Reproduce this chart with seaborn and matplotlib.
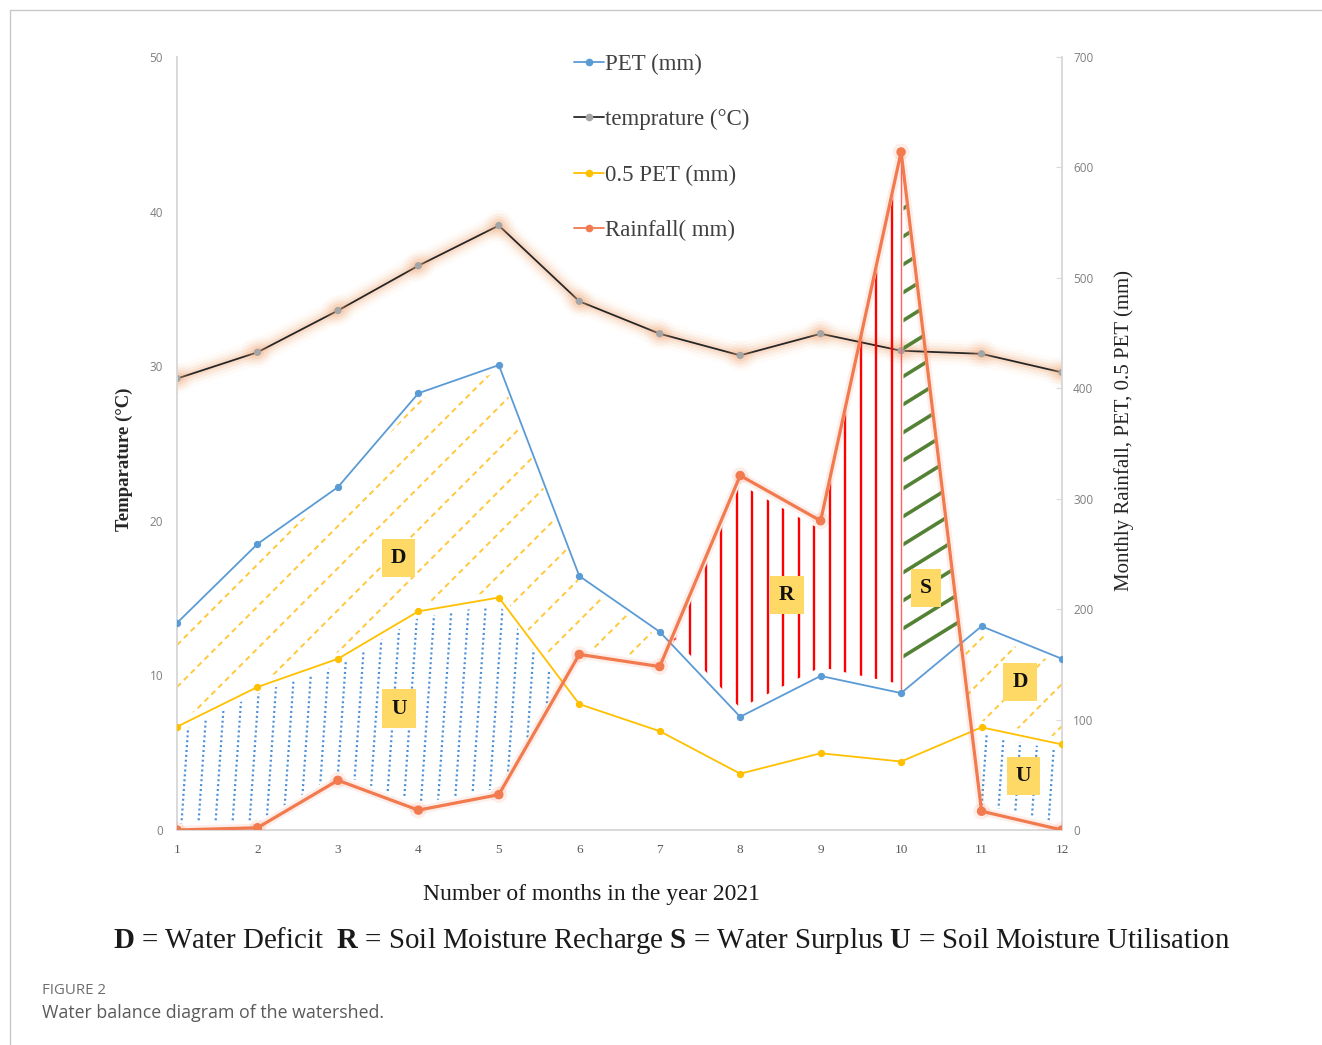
import numpy as np
import pandas as pd
import seaborn as sns
import matplotlib
matplotlib.use("Agg")
import matplotlib.pyplot as plt
import matplotlib.patheffects as pe
from matplotlib.lines import Line2D
from matplotlib.collections import LineCollection
from matplotlib.patches import PathPatch
from matplotlib.path import Path

# ---- data (year 2021) ----
months = [1, 2, 3, 4, 5, 6, 7, 8, 9, 10, 11, 12]
pet_mm = [187.5, 259, 310.5, 395.5, 421, 230, 179.5, 102.5, 139.5, 124, 184.5, 155]
half_pet_mm = [93.5, 129.5, 155, 198, 210.5, 114, 89.5, 51, 69.5, 62, 93, 77.5]
rain_mm = [0, 2, 45, 18, 32, 159, 148, 321, 280, 614, 17, 0]
temp_c = [29.2, 30.9, 33.6, 36.5, 39.1, 34.2, 32.1, 30.7, 32.1, 31.0, 30.8, 29.6]
temp_ticks = [0, 10, 20, 30, 40, 50]
mm_ticks = [0, 100, 200, 300, 400, 500, 600, 700]

df = pd.DataFrame({"month": months, "pet": pet_mm, "half": half_pet_mm,
                   "rain": rain_mm, "temp": temp_c})

sns.set_style("white")
plt.rcParams["font.family"] = ["Liberation Serif", "DejaVu Serif"]
plt.rcParams["mathtext.fontset"] = "custom"
plt.rcParams["mathtext.rm"] = "Liberation Serif"
plt.rcParams["mathtext.bf"] = "Liberation Serif:bold"

W_PX, H_PX = 1322, 1045
fig = plt.figure(figsize=(W_PX / 100, H_PX / 100), dpi=100)
fig.patch.set_facecolor("white")

def fx(px):
    return px / W_PX

def fy(py):
    return 1 - py / H_PX

ax = fig.add_axes([fx(177), fy(830), fx(1062) - fx(177), fy(57) - fy(830)])
ax2 = ax.twinx()

C_PET = "#5B9BD5"
C_HALF = "#FFC000"
C_RAIN = "#F27A4F"
C_TEMP = "#262626"
GRID_GRAY = "#D9D9D9"

# ---- temperature on the left axis ----
sns.lineplot(data=df, x="month", y="temp", ax=ax, color=C_TEMP, linewidth=1.3,
             marker="o", markersize=4.5, markerfacecolor="#A5A5A5",
             markeredgecolor="#A5A5A5", zorder=3)
glow = "#F4B183"
ax.lines[-1].set_path_effects([
    pe.Stroke(linewidth=18, foreground=glow, alpha=0.05),
    pe.Stroke(linewidth=13, foreground=glow, alpha=0.09),
    pe.Stroke(linewidth=9, foreground=glow, alpha=0.14),
    pe.Stroke(linewidth=5, foreground=glow, alpha=0.22),
    pe.Normal()])

ax.set_xlim(1, 12)
ax.set_ylim(0, 50)
ax2.set_ylim(0, 700)

# ---- hatched water-balance regions (right axis) ----
xs = np.linspace(1, 12, 2201)
pet_i = np.interp(xs, months, pet_mm)
half_i = np.interp(xs, months, half_pet_mm)
rain_i = np.interp(xs, months, rain_mm)

def region(lower, upper, mask):
    poly = ax2.fill_between(xs, lower, upper, where=mask, facecolor="none",
                            edgecolor="none", linewidth=0)
    paths = poly.get_paths()
    patch = PathPatch(Path.make_compound_path(*paths), transform=ax2.transData,
                      facecolor="none", edgecolor="none")
    ax2.add_patch(patch)
    return patch

fig.canvas.draw()
bb = ax.get_window_extent()
AW, AH = bb.width, bb.height

def hatch(patch, dxdy, slope, spacing, vertical=False, **kw):
    segs = []
    if vertical:
        # nearly vertical lines: x = x0 + dxdy * y (pixels)
        for x0 in np.arange(-200, AW + 200, spacing):
            segs.append([((x0) / AW, 0), ((x0 + dxdy * AH) / AW, 1)])
    else:
        # lines y = slope * x + c (pixels)
        for c in np.arange(-slope * AW - 400, AH + 400, spacing):
            segs.append([(0, c / AH), (1, (slope * AW + c) / AH)])
    lc = LineCollection(segs, transform=ax2.transAxes, **kw)
    ax2.add_collection(lc)
    lc.set_clip_path(patch)
    return lc

m = 6
# water deficit: PET above rainfall
d_mask = pet_i > rain_i
d_patch = region(np.maximum(half_i, rain_i) + m, pet_i - m, d_mask)
hatch(d_patch, 0, 1.0, 42, colors="#FFC83D", linewidths=1.4,
      linestyles=[(0, (2.8, 2.2))], zorder=2)

# soil moisture utilisation: rainfall below 0.5 PET
u_mask = rain_i < half_i
u_patch = region(rain_i + m, half_i - m, u_mask)
hatch(u_patch, 0.07, 0, 17, vertical=True, colors="#4A8FD8", linewidths=1.6,
      linestyles=[(0, (0.9, 1.3))], zorder=2)

# soil moisture recharge: rainfall above PET up to month 10
r_mask = (rain_i > pet_i) & (xs <= 10)
r_patch = region(pet_i + 8, rain_i - 8, r_mask)
hatch(r_patch, 0, 0, 15.5, vertical=True, colors="#FF0000", linewidths=1.7,
      zorder=2)

# water surplus: rainfall above PET after month 10
s_mask = (rain_i > pet_i) & (xs >= 10.03)
s_patch = region(pet_i + 12, rain_i - 12, s_mask)
hatch(s_patch, 0, 0.62, 28, colors="#548235", linewidths=2.6, zorder=2)

# thin boundary between recharge and surplus
ax2.vlines(10, pet_mm[9], rain_mm[9], colors="#FF6060", linewidth=1.0, zorder=2)

# ---- series on the right axis ----
sns.lineplot(data=df, x="month", y="pet", ax=ax2, color=C_PET, linewidth=1.3,
             marker="o", markersize=4.5, markeredgecolor=C_PET, zorder=4)
sns.lineplot(data=df, x="month", y="half", ax=ax2, color=C_HALF, linewidth=1.3,
             marker="o", markersize=4.5, markeredgecolor=C_HALF, zorder=4)
sns.lineplot(data=df, x="month", y="rain", ax=ax2, color=C_RAIN, linewidth=2.3,
             marker="o", markersize=6, markeredgecolor=C_RAIN, zorder=5)
ax2.lines[-1].set_path_effects([
    pe.Stroke(linewidth=6, foreground=C_RAIN, alpha=0.12),
    pe.Normal()])

ax2.set_xlim(1, 12)
ax2.set_ylim(0, 700)

# ---- letter tags ----
tags = [("D", 3.75, 246), ("U", 3.76, 110), ("R", 8.58, 213),
        ("S", 10.31, 219), ("D", 11.48, 134), ("U", 11.52, 49)]
for letter, tx, ty in tags:
    ax2.text(tx, ty, letter, ha="center", va="center", fontsize=15.5,
             fontweight="bold", color="#111111", zorder=6,
             bbox=dict(boxstyle="square,pad=0.42", facecolor="#FFD966",
                       edgecolor="none"))

# ---- axes styling ----
for a in (ax, ax2):
    a.spines["top"].set_visible(False)
    for side in ("left", "right", "bottom"):
        a.spines[side].set_color(GRID_GRAY)
        a.spines[side].set_linewidth(1.2)
    a.grid(False)
    a.set_xlabel("")
    a.set_ylabel("")

ax.set_xticks(months)
ax.set_xticklabels([str(v) for v in months], fontsize=9.5, color="#595959")
ax.tick_params(axis="x", length=0, pad=10)
ax.set_yticks(temp_ticks)
ax.set_yticklabels([str(v) for v in temp_ticks], fontsize=8.5, color="#7F7F7F",
                   family="Open Sans")
ax.tick_params(axis="y", length=0, pad=10)

ax2.set_yticks(mm_ticks)
ax2.set_yticklabels([str(v) for v in mm_ticks], fontsize=8.5, color="#7F7F7F",
                    family="Open Sans")
ax2.tick_params(axis="y", length=4, direction="in", color=GRID_GRAY, pad=8)

ax.set_ylabel("Temparature (°C)", fontsize=13.5, fontweight="bold", color="#262626")
ax.yaxis.set_label_coords(-0.050, 0.48)
ax2.set_ylabel("Monthly Rainfall, PET, 0.5 PET (mm)", fontsize=15,
               color="#262626", rotation=90)
ax2.yaxis.set_label_coords(1.059, 0.517)
ax.set_xlabel("Number of months in the year 2021", fontsize=17, color="#1a1a1a")
ax.xaxis.set_label_coords(0.468, -0.070)

# ---- legend ----
handles = [
    Line2D([], [], color=C_PET, lw=1.3, marker="o", ms=4.5),
    Line2D([], [], color=C_TEMP, lw=1.3, marker="o", ms=4.5,
           markerfacecolor="#A5A5A5", markeredgecolor="#A5A5A5"),
    Line2D([], [], color=C_HALF, lw=1.3, marker="o", ms=4.5),
    Line2D([], [], color=C_RAIN, lw=1.3, marker="o", ms=4.5),
]
labels = ["PET (mm)", "temprature (°C)", "0.5 PET (mm)", "Rainfall( mm)"]
leg = ax2.legend(handles, labels, loc="upper left",
                 bbox_to_anchor=(fx(574), fy(54)), bbox_transform=fig.transFigure,
                 frameon=False, fontsize=16.5, labelspacing=1.49, handlelength=1.3,
                 handletextpad=0.05, borderpad=0, borderaxespad=0)
for t in leg.get_texts():
    t.set_color("#404040")

# ---- key line under the chart ----
fig.text(fx(672), fy(941),
         r"$\mathbf{D}$ = Water Deficit  $\mathbf{R}$ = Soil Moisture Recharge "
         r"$\mathbf{S}$ = Water Surplus $\mathbf{U}$ = Soil Moisture Utilisation",
         ha="center", va="center", fontsize=20.8, color="#1a1a1a")

# ---- caption and frame ----
fig.text(fx(42), fy(990), "FIGURE 2", ha="left", va="center", fontsize=10.8,
         color="#6E6E6E", family="Open Sans")
fig.text(fx(42), fy(1013), "Water balance diagram of the watershed.", ha="left",
         va="center", fontsize=12.8, color="#5A5A5A", family="Open Sans")
fig.add_artist(Line2D([fx(10), 1], [fy(10), fy(10)], color="#C8C8C8", lw=1,
                      transform=fig.transFigure))
fig.add_artist(Line2D([fx(10), fx(10)], [0, fy(10)], color="#C8C8C8", lw=1,
                      transform=fig.transFigure))

fig.savefig("out.png", dpi=100, facecolor="white")
